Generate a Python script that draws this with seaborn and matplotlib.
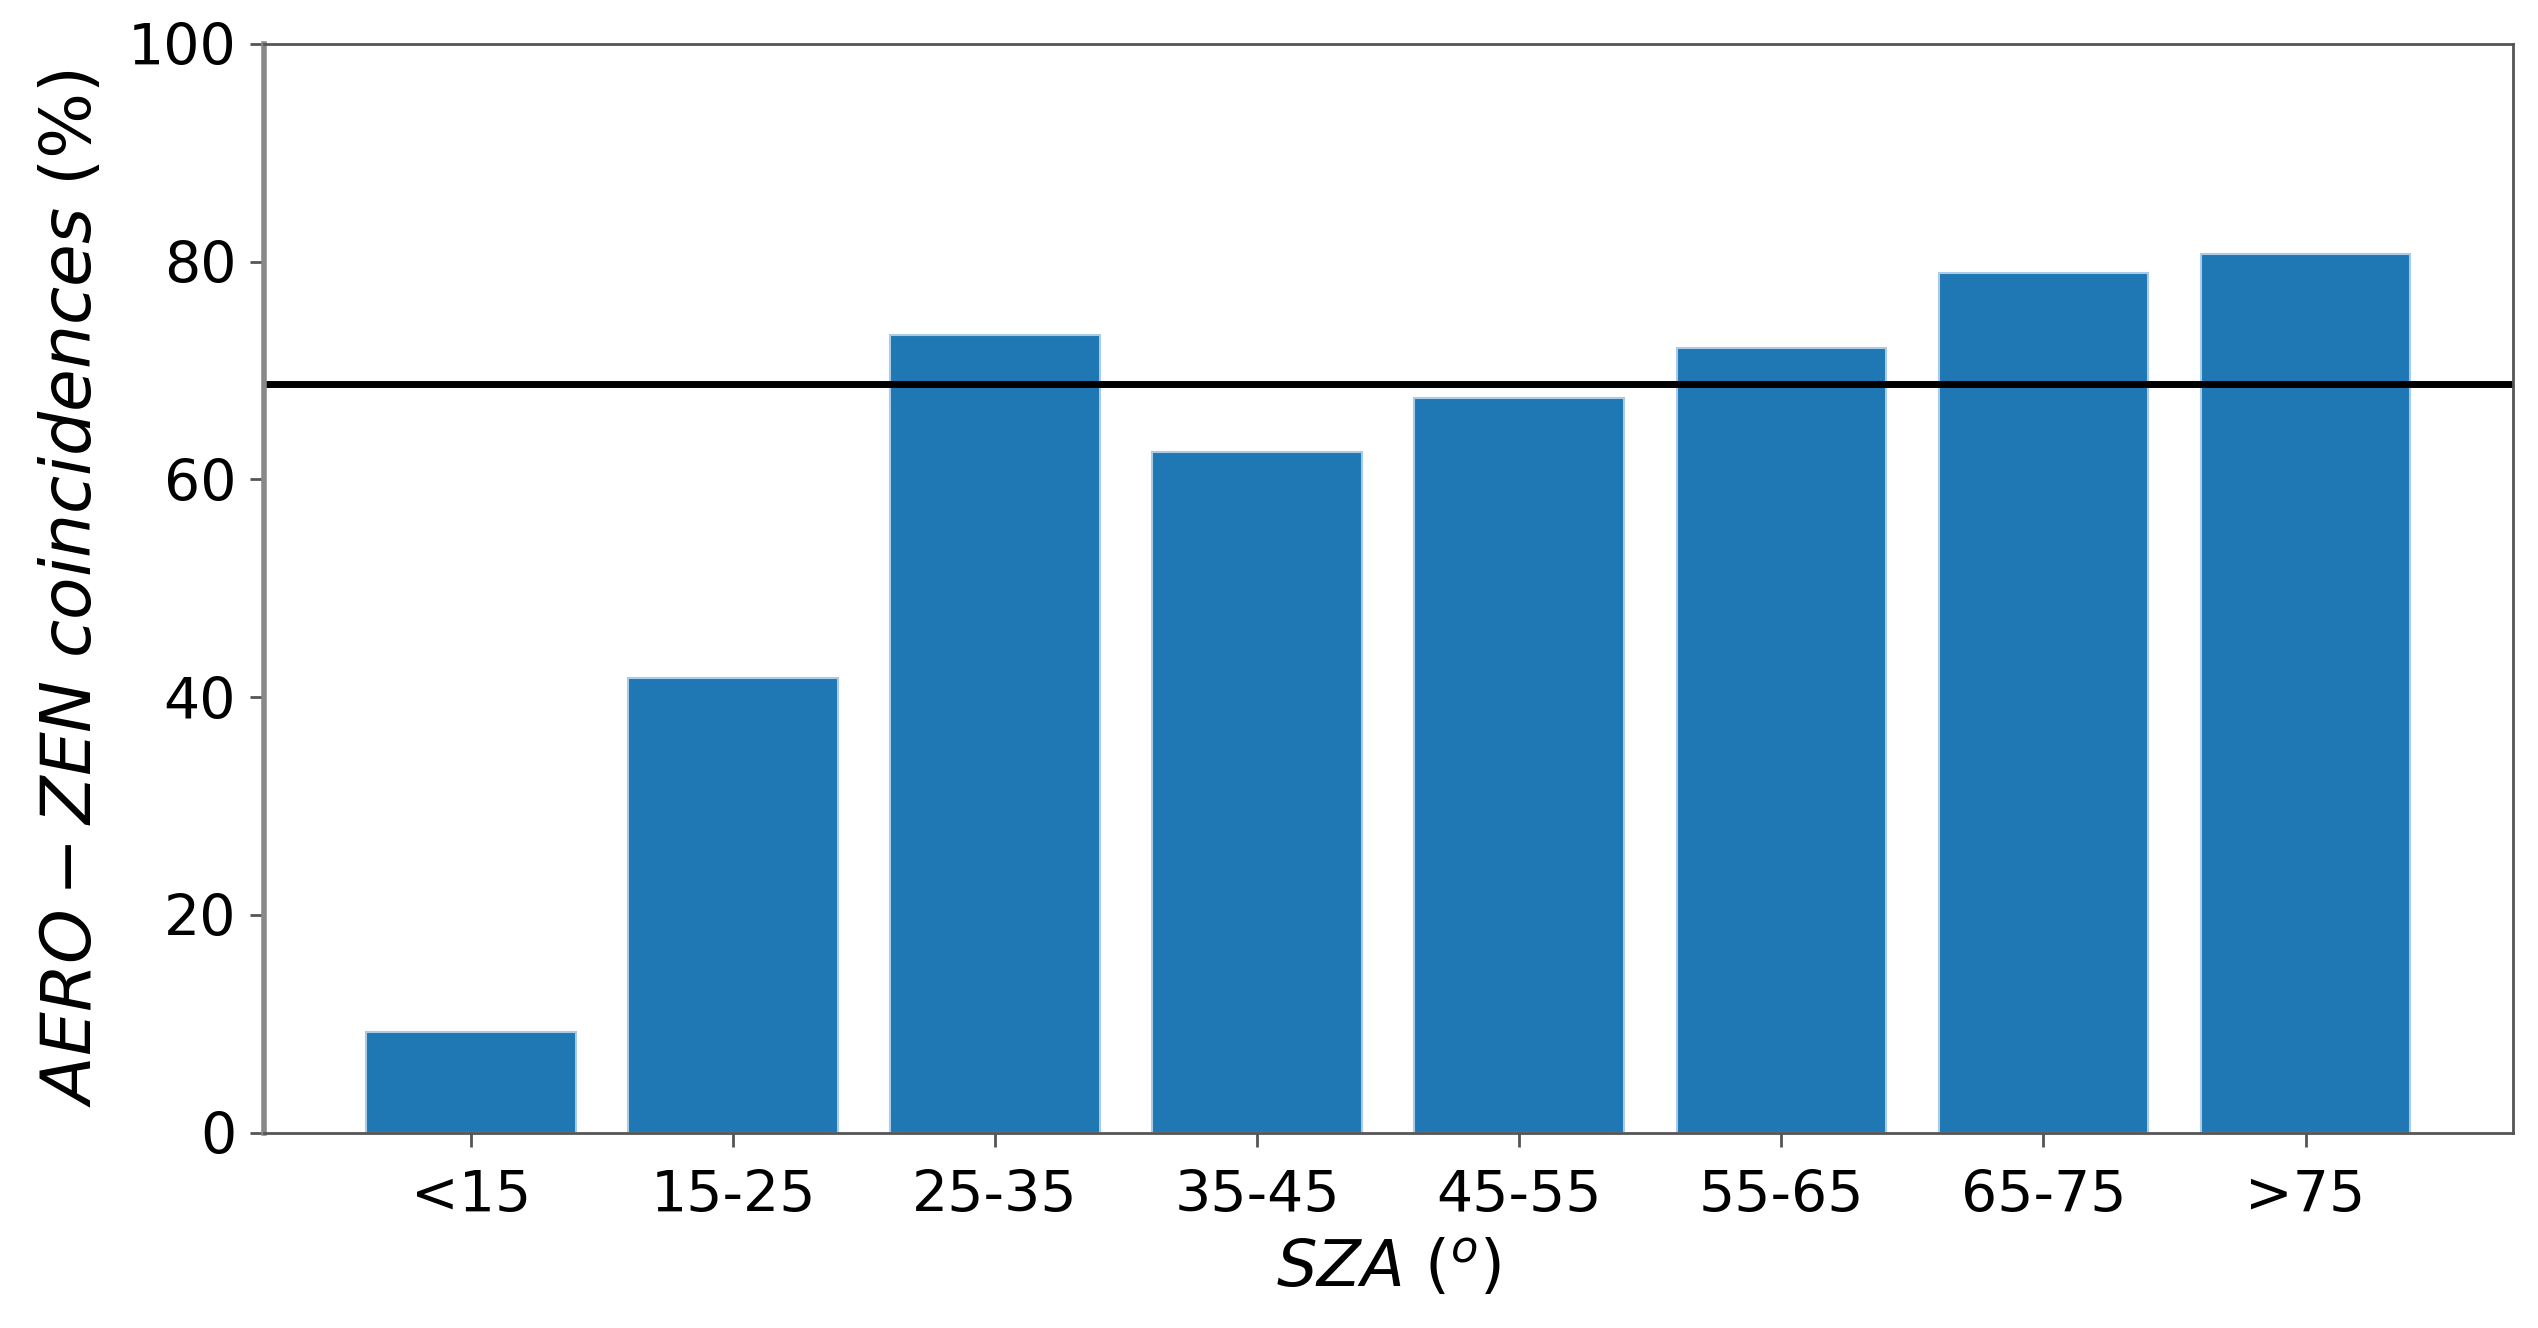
import numpy as np
import matplotlib
matplotlib.use("Agg")
import matplotlib.pyplot as plt
import seaborn as sns

# values
sza_bins = ["<15", "15-25", "25-35", "35-45", "45-55", "55-65", "65-75", ">75"]
coincidences = [9.3, 41.8, 73.3, 62.5, 67.5, 72.1, 79.0, 80.7]
mean_line = 68.8

plt.rcParams['font.family'] = ['DejaVu Sans']
plt.rcParams['mathtext.fontset'] = 'dejavusans'

fig = plt.figure(figsize=(25.38, 13.28), dpi=100)
ax = fig.add_axes([0.104, 0.147, 0.886, 0.820])

sns.barplot(x=sza_bins, y=coincidences, color='#1f77b4', saturation=1,
            width=0.8, edgecolor='#a9cbe6', linewidth=1.5, ax=ax)
ax.axhline(mean_line, color='black', linewidth=5)

ax.set_xlim(-0.79, len(sza_bins) - 1 + 0.79)
ax.set_ylim(0, 100)
ax.set_yticks([0, 20, 40, 60, 80, 100])

for s in ax.spines.values():
    s.set_color('#555555')
    s.set_linewidth(2)
ax.spines['left'].set_linewidth(4)
ax.spines['left'].set_color('#888888')

ax.tick_params(axis='both', labelsize=41, length=10, width=2, color='#555555', pad=10)
ax.tick_params(axis='x', pad=16)
ax.set_xlabel(r'$SZA\ (^o)$', fontsize=46, labelpad=10)
ax.set_ylabel(r'$AERO-ZEN\ coincidences\ (\%)$', fontsize=50, labelpad=16)

fig.savefig('out.png', dpi=100)
